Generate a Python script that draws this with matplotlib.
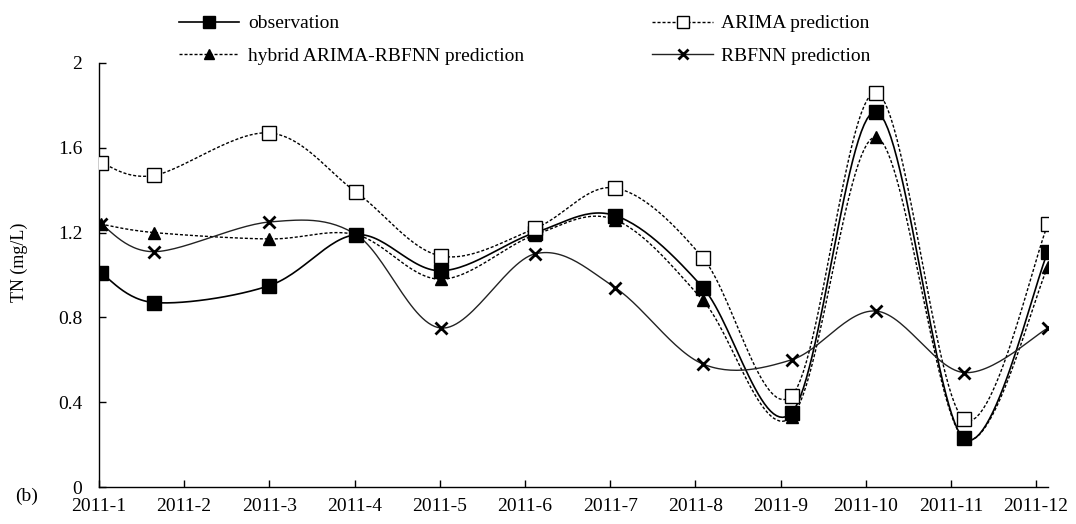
import numpy as np
import matplotlib
matplotlib.use("Agg")
import matplotlib.pyplot as plt
from matplotlib.ticker import FormatStrFormatter

plt.rcParams['font.family'] = ['Liberation Serif', 'DejaVu Serif']

# --- data ---
month_labels = ["2011-1", "2011-2", "2011-3", "2011-4", "2011-5", "2011-6",
                "2011-7", "2011-8", "2011-9", "2011-10", "2011-11", "2011-12"]
# sampling positions, in months after 2011-1
sample_pos = [0.02, 0.65, 2.0, 3.02, 4.01, 5.12, 6.06, 7.09, 8.13, 9.12, 10.15, 11.14]

observation = [1.01, 0.87, 0.95, 1.19, 1.02, 1.20, 1.28, 0.94, 0.35, 1.77, 0.23, 1.11]
arima = [1.53, 1.47, 1.67, 1.39, 1.09, 1.22, 1.41, 1.08, 0.43, 1.86, 0.32, 1.24]
hybrid = [1.24, 1.20, 1.17, 1.19, 0.98, 1.19, 1.26, 0.88, 0.33, 1.65, 0.23, 1.04]
rbfnn = [1.24, 1.11, 1.25, 1.19, 0.75, 1.10, 0.94, 0.58, 0.60, 0.83, 0.54, 0.75]


def smooth(x, y, sx=85.2, sy=212.0, n=30):
    # Excel-style smoothed line: cubic Bezier with Catmull-Rom control points,
    # computed in screen-like units so the shape matches
    px = np.asarray(x) * sx
    py = np.asarray(y) * sy
    P = np.column_stack([px, py])
    P = np.vstack([P[0], P, P[-1]])
    out = []
    t = np.linspace(0, 1, n)[:, None]
    for i in range(1, len(P) - 2):
        p0, p3 = P[i], P[i + 1]
        c1 = p0 + (P[i + 1] - P[i - 1]) / 6.0
        c2 = p3 - (P[i + 2] - P[i]) / 6.0
        seg = ((1 - t) ** 3) * p0 + 3 * ((1 - t) ** 2) * t * c1 + 3 * (1 - t) * t ** 2 * c2 + t ** 3 * p3
        out.append(seg if i == 1 else seg[1:])
    out = np.vstack(out)
    return out[:, 0] / sx, out[:, 1] / sy


fig = plt.figure(figsize=(10.76, 5.24), dpi=100)
ax = fig.add_axes([0.092, 0.0706, 0.882, 0.8092])

dash = (0, (2.2, 1.4))
series = [
    ("observation", observation, dict(color="black", lw=1.2, ls="-"),
     dict(marker="s", ms=9.5, mfc="black", mec="black")),
    ("hybrid ARIMA-RBFNN prediction", hybrid, dict(color="black", lw=1.0, ls=dash),
     dict(marker="^", ms=9, mfc="black", mec="black")),
    ("ARIMA prediction", arima, dict(color="black", lw=1.0, ls=dash),
     dict(marker="s", ms=9.5, mfc="white", mec="black", mew=1.0)),
    ("RBFNN prediction", rbfnn, dict(color="#222222", lw=1.0, ls="-"),
     dict(marker="x", ms=9, mec="black", mew=2.0)),
]

handles = []
for name, vals, lstyle, mstyle in series:
    sx_, sy_ = smooth(sample_pos, vals)
    ax.plot(sx_, sy_, zorder=2, **lstyle)
    ax.plot(sample_pos, vals, ls="none", zorder=3, **mstyle)
    h, = ax.plot([], [], label=name, **lstyle, **mstyle)
    handles.append(h)

ax.set_xlim(0, 11.14)
ax.set_ylim(0, 2)
ax.set_xticks(range(len(month_labels)))
ax.set_xticklabels(month_labels)
ax.set_yticks([0, 0.4, 0.8, 1.2, 1.6, 2.0])
ax.yaxis.set_major_formatter(FormatStrFormatter('%g'))
ax.tick_params(axis='both', direction='in', length=5, width=1, labelsize=14)
ax.tick_params(axis='y', pad=12)
ax.tick_params(axis='x', pad=8)
for s in ["top", "right"]:
    ax.spines[s].set_visible(False)
for s in ["left", "bottom"]:
    ax.spines[s].set_linewidth(1.0)

ax.set_ylabel("TN (mg/L)", fontsize=13, labelpad=8)
ax.yaxis.set_label_coords(-0.075, 0.53)

fig.legend(handles=handles, ncol=2, loc="upper left", bbox_to_anchor=(0.150, 1.005),
           frameon=False, fontsize=14, handlelength=3.1, handletextpad=0.45,
           columnspacing=6.6, labelspacing=0.75, markerscale=0.85)

fig.text(0.025, 0.052, "(b)", fontsize=14, ha="center", va="center")

fig.savefig("out.png", dpi=100)
